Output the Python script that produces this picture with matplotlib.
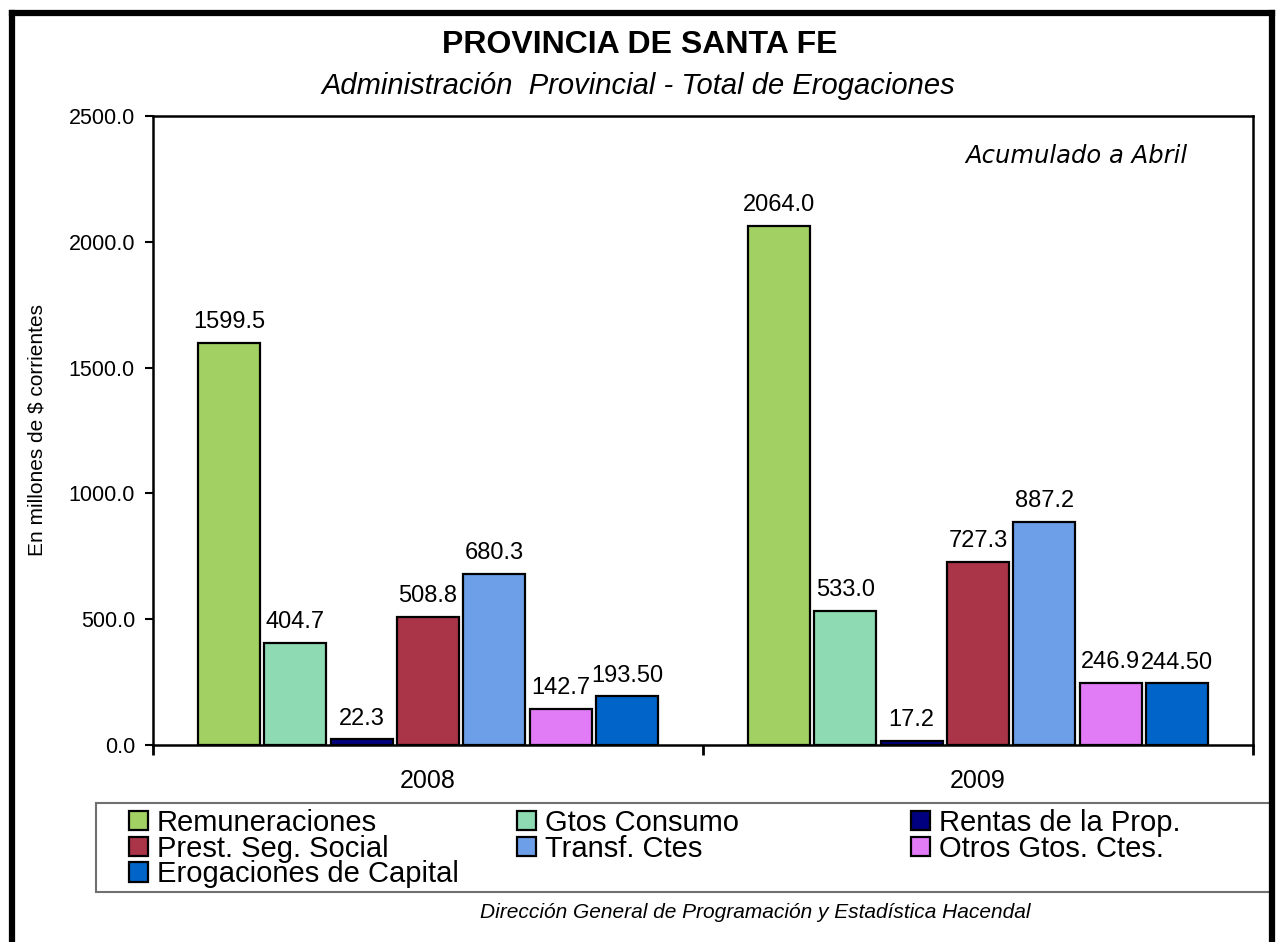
import matplotlib
matplotlib.use("Agg")
import matplotlib.pyplot as plt
from matplotlib.patches import Patch, Rectangle
from matplotlib.lines import Line2D
import numpy as np

plt.rcParams['font.family'] = ['Liberation Sans', 'DejaVu Sans']

years = ["2008", "2009"]
series = ["Remuneraciones", "Gtos Consumo", "Rentas de la Prop.", "Prest. Seg. Social",
          "Transf. Ctes", "Otros Gtos. Ctes.", "Erogaciones de Capital"]
values = [
    [1599.5, 2064.0],
    [404.7, 533.0],
    [22.3, 17.2],
    [508.8, 727.3],
    [680.3, 887.2],
    [142.7, 246.9],
    [193.50, 244.50],
]
decimals = [1, 1, 1, 1, 1, 1, 2]
colors = ["#A2D062", "#8EDBB3", "#000080", "#AA3448", "#6C9FE8", "#E27CF6", "#0064C8"]

W, H = 1276, 942
fig = plt.figure(figsize=(W / 100, H / 100), dpi=100)

ax = fig.add_axes([153 / W, 1 - 745 / H, (1253 - 153) / W, (745 - 116) / H])

slot = 66.5 / 551
bw = 62 / 551
x = np.arange(len(years))
n = len(series)
handles = []
for i, (name, vals, col, dec) in enumerate(zip(series, values, colors, decimals)):
    pos = x + (i - (n - 1) / 2) * slot
    bars = ax.bar(pos, vals, width=bw, color=col, edgecolor="black", linewidth=1.6, label=name, zorder=3)
    handles.append(bars)
    for b, v in zip(bars, vals):
        ax.annotate(f"{v:.{dec}f}", (b.get_x() + b.get_width() / 2, b.get_height()),
                    xytext=(0, 7), textcoords="offset points", ha="center", va="bottom",
                    fontsize=17)

ax.set_xlim(-0.5, 1.5)
ax.set_ylim(0, 2500)
ax.set_yticks(np.arange(0, 2501, 500))
ax.set_yticklabels([f"{t:.1f}" for t in np.arange(0, 2501, 500)], fontsize=15.5)
ax.set_xticks(x)
ax.set_xticklabels(years, fontsize=18)
ax.set_xticks([-0.5, 0.5, 1.5], minor=True)
ax.tick_params(axis="x", which="major", length=0, pad=17)
ax.tick_params(axis="x", which="minor", length=7, width=2, direction="out")
ax.tick_params(axis="y", length=6, width=1.5, direction="out", pad=7)
for s in ax.spines.values():
    s.set_linewidth(1.8)
ax.set_ylabel("En millones de $ corrientes", fontsize=15)
ax.yaxis.set_label_coords((47 - 153) / 1100, 0.5)

fig.text(640, H - 45, "PROVINCIA DE SANTA FE", transform=None, ha="center", va="center",
         fontsize=23, fontweight="bold")
fig.text(638, H - 86, "Administración  Provincial - Total de Erogaciones", transform=None,
         ha="center", va="center", fontsize=21, style="italic")
fig.text(1076, H - 156, "Acumulado a Abril", transform=None, ha="center", va="center",
         fontsize=17.5, style="italic", family=["DejaVu Sans"])
fig.text(755, H - 912, "Dirección General de Programación y Estadística Hacendal", transform=None,
         ha="center", va="center", fontsize=15, style="italic")

# legend: three equal-width columns, row-major order, inside one frame
fig.add_artist(Rectangle((96, H - 892), 1272 - 96, 892 - 803, transform=None,
                         fill=False, edgecolor="#707070", linewidth=1.5))
col_x = [129, 517, 911]
cols = [[0, 3, 6], [1, 4], [2, 5]]
for cx, idxs in zip(col_x, cols):
    fig.legend([handles[i] for i in idxs], [series[i] for i in idxs],
               loc="upper left", bbox_to_anchor=(cx / W, 1 - 809 / H),
               fontsize=21, frameon=False, handlelength=0.65, handleheight=0.65,
               handletextpad=0.3, labelspacing=-0.08, borderpad=0, borderaxespad=0)

# outer border
for xs, ys in [([11.5, 11.5], [0, H - 12.5]), ([11.5, 1272], [H - 12.5, H - 12.5]),
               ([1272, 1272], [H - 12.5, 0])]:
    fig.add_artist(Line2D(xs, ys, transform=None, color="black", linewidth=4.5,
                          solid_capstyle="projecting"))

fig.savefig("out.png", dpi=100)
